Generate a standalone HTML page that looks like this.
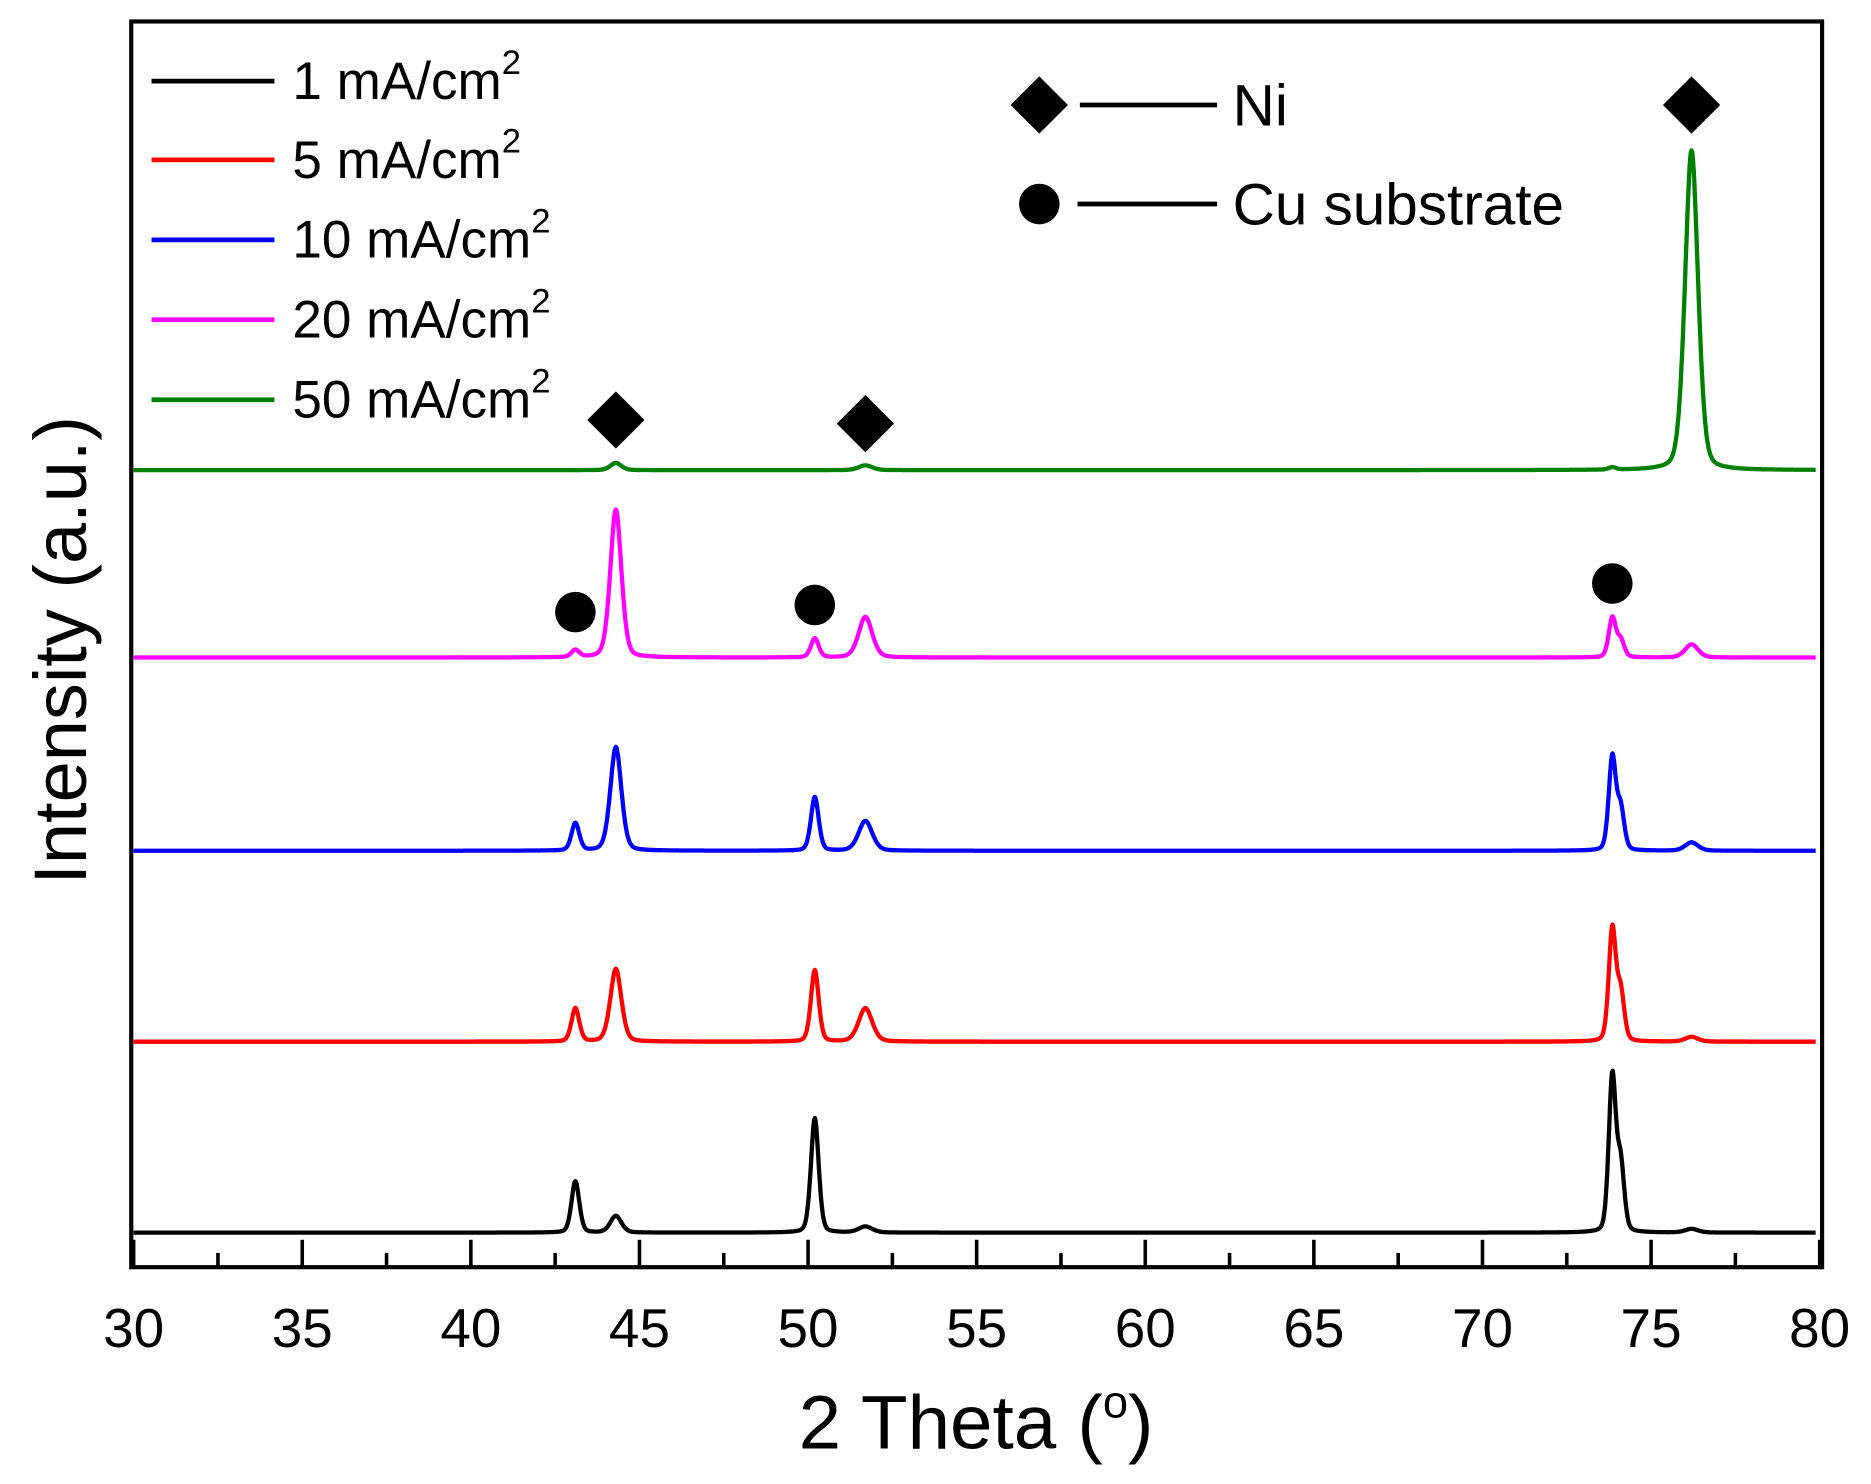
<!DOCTYPE html>
<html><head><meta charset="utf-8"><style>
html,body{margin:0;padding:0;background:#fff;}
svg{display:block;font-family:"Liberation Sans",Arial,sans-serif;}
</style></head><body>
<svg id="chart" width="1871" height="1484" viewBox="0 0 1568 1243.7" preserveAspectRatio="none">
<g id="series"></g>
<g id="axes"></g>
<g id="markers"></g>
<g id="legend"></g>
</svg>
<script>
const NS="http://www.w3.org/2000/svg";
const seriesNames=["1 mA/cm","5 mA/cm","10 mA/cm","20 mA/cm","50 mA/cm"];
const seriesColors=["#000000","#ff0000","#0000ff","#ff00ff","#008000"];
const seriesOffsets=[0,160,320,482,639];
const peakPos=[43.1,44.3,50.2,51.7,73.85,74.1,76.2];
const peakWidth=[0.12,0.17,0.12,0.21,0.11,0.11,0.2];
const h1=[43,14,96,5,130,55,3];
const h5=[28,61,60,28,94,40,4];
const h10=[23,87,45,25,78,34,7];
const h20=[6,124,16,34,33,14,11];
const h50=[0,6,0,4,2,0,268];
const seriesHeights=[h1,h5,h10,h20,h50];
const xTicks=[30,35,40,45,50,55,60,65,70,75,80];
const niMarkers=[[44.3,681],[51.7,678],[76.2,945]];
const cuMarkers=[[43.1,520],[50.2,526],[73.85,544]];

const X0=112,X1=1525,Y0=1033,TOP=18,BOT=1062;
const xs=v=>X0+(v-30)*(X1-X0)/50;
const ys=v=>Y0-v;

function mk(tag,attrs,parent){const e=document.createElementNS(NS,tag);for(const k in attrs)e.setAttribute(k,attrs[k]);parent.appendChild(e);return e;}
const gS=document.getElementById('series'),gA=document.getElementById('axes'),gM=document.getElementById('markers'),gL=document.getElementById('legend');

seriesHeights.forEach((hs,si)=>{
  let d="";
  for(let x=30;x<=79.9;x+=0.02){
    let y=seriesOffsets[si];
    for(let p=0;p<peakPos.length;p++){const t=(x-peakPos[p])/peakWidth[p];y+=hs[p]*(0.7*Math.exp(-0.5*t*t)+0.3/(1+t*t));}
    d+=(d?"L":"M")+xs(x).toFixed(1)+","+ys(y).toFixed(1);
  }
  const p=mk('path',{d:d,fill:'none',stroke:seriesColors[si],'stroke-width':3.6,'stroke-linejoin':'round'},gS);
  
  
});

const frame=mk('rect',{x:110,y:TOP,width:1417,height:BOT-TOP,fill:'none',stroke:'#000','stroke-width':3.5},gA);


for(let v=30;v<=80;v+=2.5){
  const major=v%5===0;
  const t=mk('line',{x1:xs(v),x2:xs(v),y1:BOT,y2:BOT-(major?23:12),stroke:'#000','stroke-width':3},gA);
  
  
}
xTicks.forEach(v=>{
  const t=mk('text',{x:xs(v),y:1129,'font-size':46,'text-anchor':'middle'},gA);t.textContent=v;
  
  
});
const xt=mk('text',{x:818,y:1214,'font-size':64,'text-anchor':'middle'},gA);
xt.innerHTML='2 Theta (<tspan dy="-26" font-size="38">o</tspan><tspan dy="26">)</tspan>';


const yt=mk('text',{x:0,y:0,'font-size':62,'text-anchor':'middle',transform:'translate(72,545) rotate(-90)'},gA);
yt.textContent='Intensity (a.u.)';



niMarkers.forEach(m=>{const x=xs(m[0]),y=ys(m[1]);
  const e=mk('polygon',{points:`${x},${y-24} ${x+24},${y} ${x},${y+24} ${x-24},${y}`,fill:'#000'},gM);
  
  });
cuMarkers.forEach(m=>{
  const e=mk('circle',{cx:xs(m[0]),cy:ys(m[1]),r:17,fill:'#000'},gM);
  
  });

const legY=[68,134,201,268,335];
seriesNames.forEach((n,i)=>{
  const l=mk('line',{x1:127,x2:230,y1:legY[i],y2:legY[i],stroke:seriesColors[i],'stroke-width':4},gL);
  
  
  const t=mk('text',{x:245,y:legY[i]+15,'font-size':44.5},gL);
  t.innerHTML=n+'<tspan dy="-21" font-size="29">2</tspan>';
  
  
});
const nd=mk('polygon',{points:"871,64 895,88 871,112 847,88",fill:'#000'},gL);


const nl=mk('line',{x1:905,x2:1020,y1:88,y2:88,stroke:'#000','stroke-width':4},gL);


const nt=mk('text',{x:1033,y:105,'font-size':49},gL);nt.textContent='Ni';


const cc=mk('circle',{cx:871,cy:171,r:17,fill:'#000'},gL);


const cl=mk('line',{x1:903,x2:1020,y1:171,y2:171,stroke:'#000','stroke-width':4},gL);


const ct=mk('text',{x:1033,y:188,'font-size':49},gL);ct.textContent='Cu substrate';


</script>
</body></html>
